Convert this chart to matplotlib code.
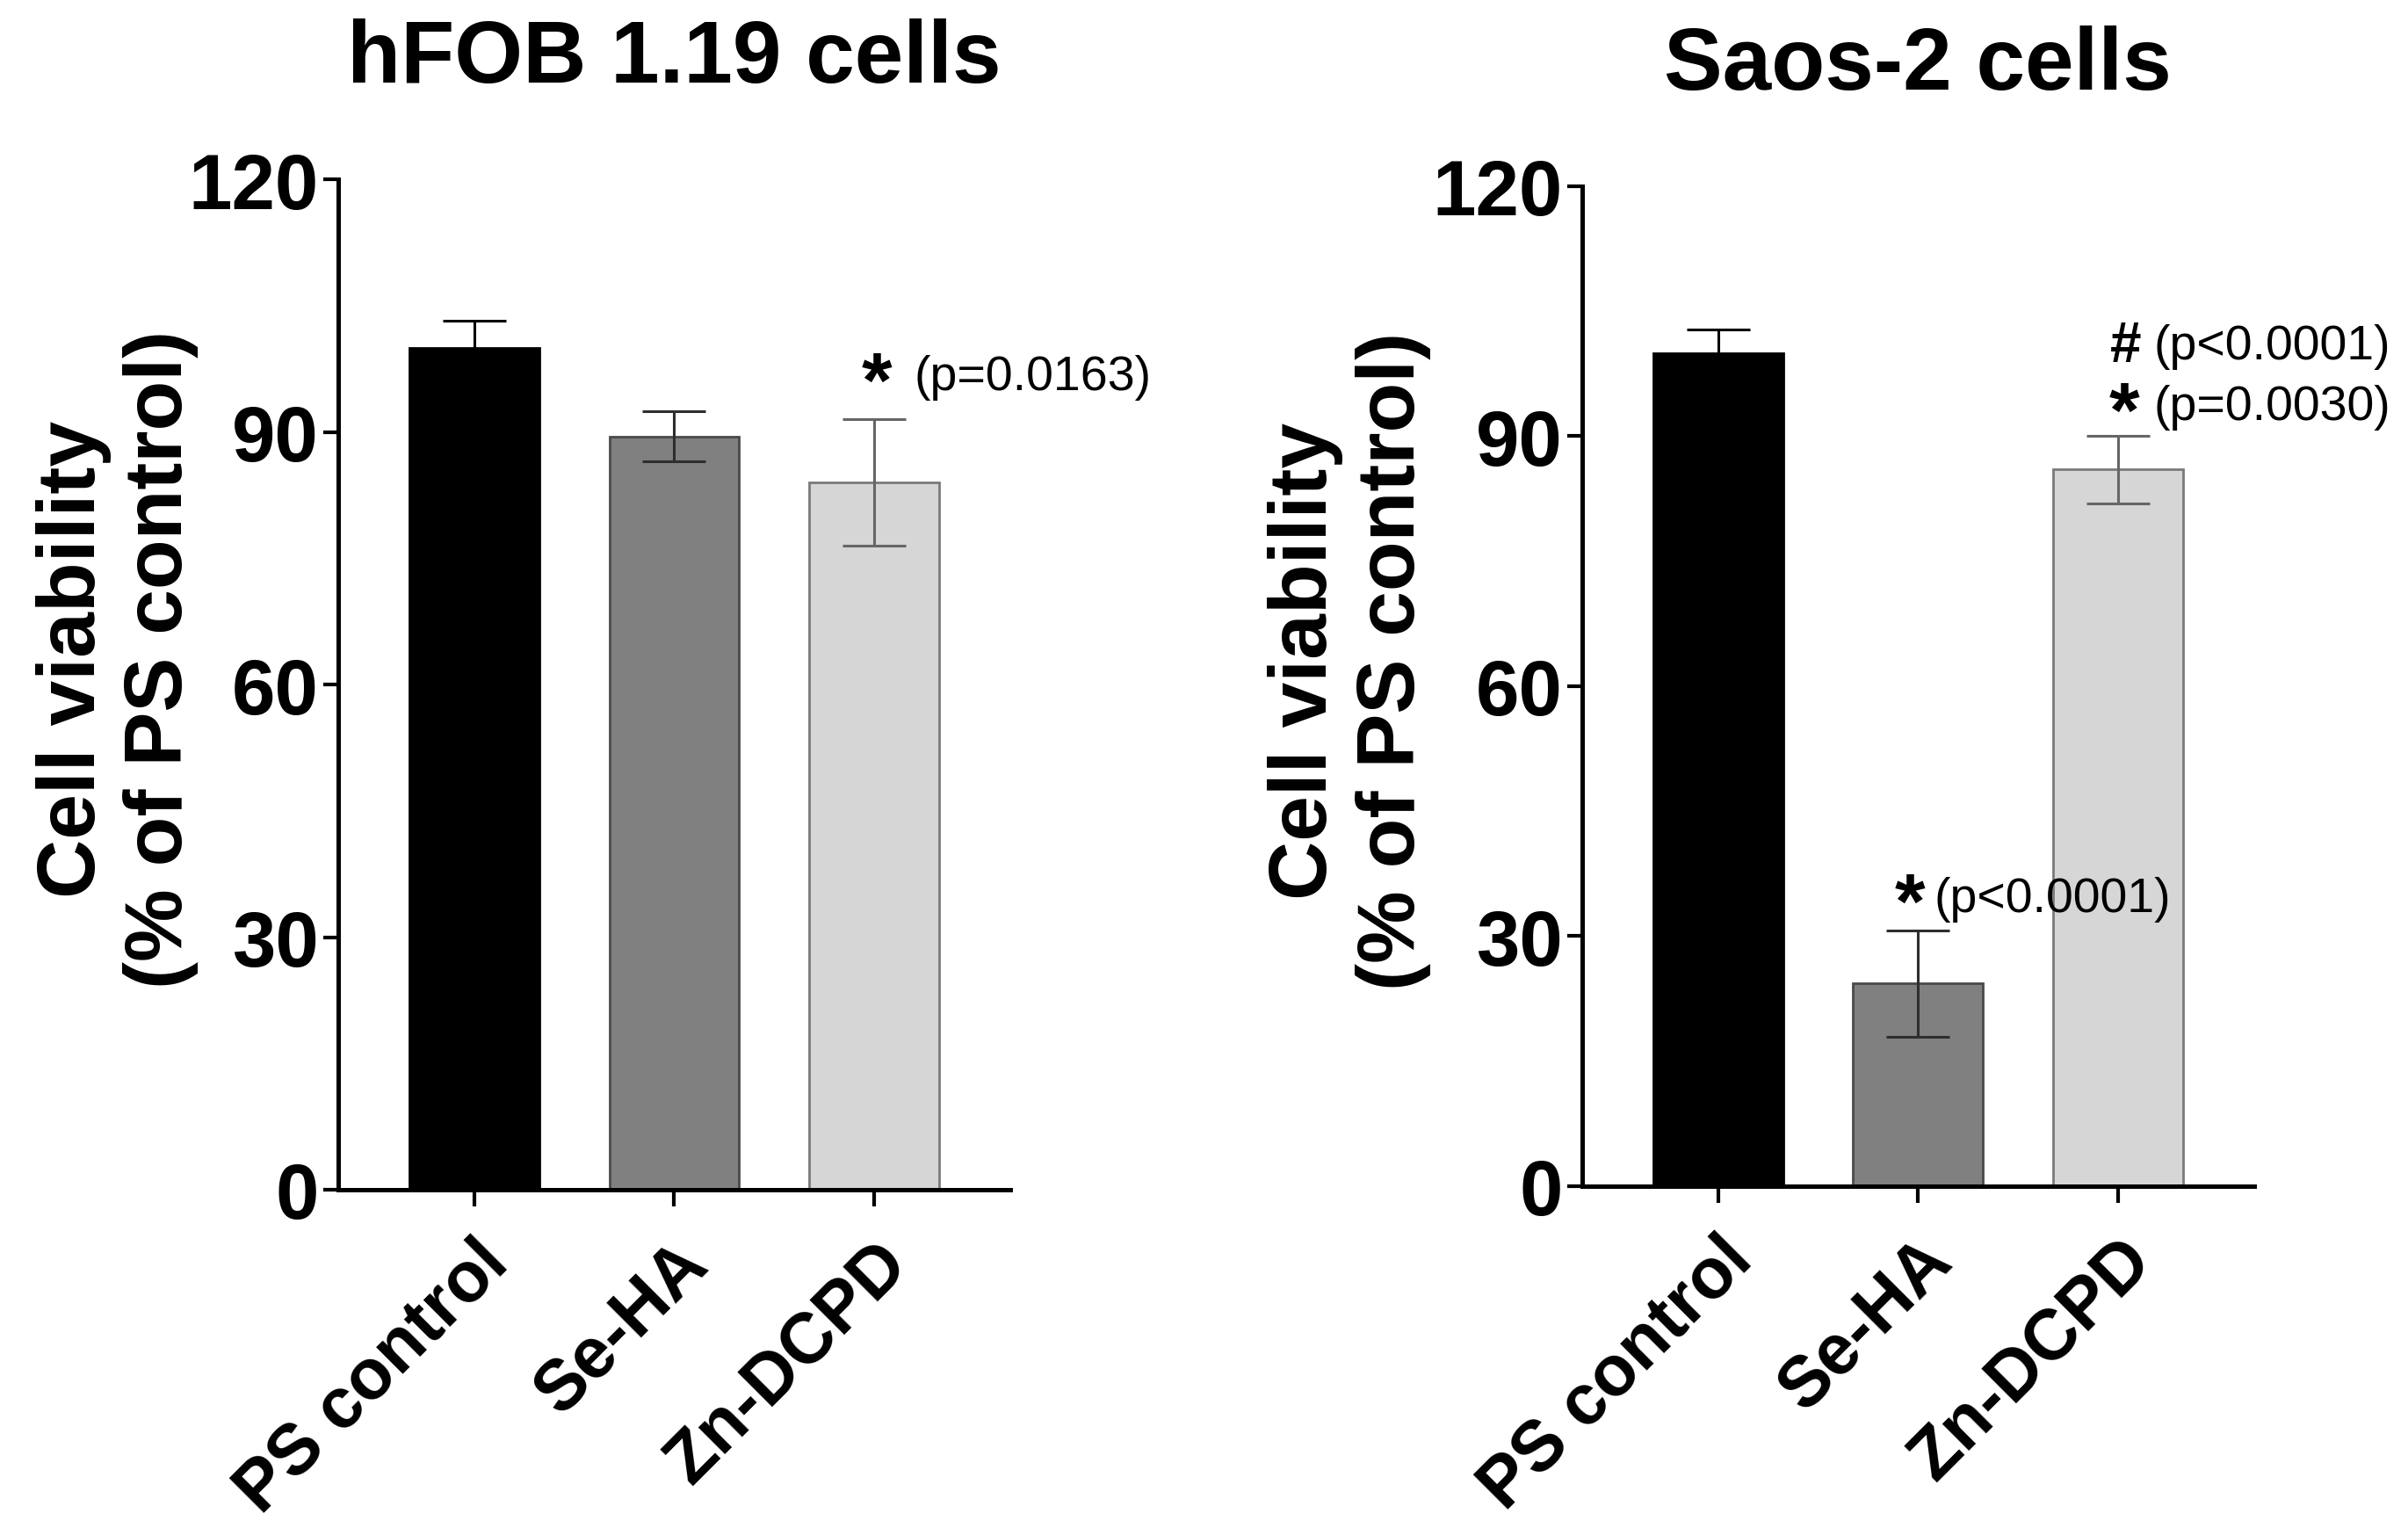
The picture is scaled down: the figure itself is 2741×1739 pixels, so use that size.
import matplotlib
matplotlib.use("Agg")
import matplotlib.pyplot as plt
import numpy as np

categories = ["PS control", "Se-HA", "Zn-DCPD"]
hfob_means = [100.0, 89.5, 84.0]
hfob_err = [3.2, 3.0, 7.5]
saos_means = [100.0, 24.3, 86.0]
saos_err = [2.8, 6.4, 4.1]
bar_colors = ["#000000", "#808080", "#d6d6d6"]
edge_colors = ["#000000", "#4a4a4a", "#7a7a7a"]
err_colors = ["#000000", "#2e2e2e", "#666666"]
titles = ["hFOB 1.19 cells", "Saos-2 cells"]
yticks = [0, 30, 60, 90, 120]

SANS = ["Liberation Sans", "DejaVu Sans"]
plt.rcParams['font.family'] = SANS

fig = plt.figure(figsize=(27.41, 17.40), dpi=100)
ax1 = fig.add_axes([0.1405, 0.2213, 0.279, 0.6607])
ax2 = fig.add_axes([0.657, 0.2236, 0.279, 0.654])

def draw(ax, means, errs, title, label_x):
    x = np.arange(len(categories))
    ax.bar(x, means, width=0.65, color=bar_colors, edgecolor=edge_colors,
           linewidth=2.0, zorder=2)
    for xi, m, e, c in zip(x, means, errs, err_colors):
        ax.errorbar([xi], [m], yerr=[e], fmt='none', ecolor=c, elinewidth=2.2,
                    capsize=26, capthick=2.2, zorder=3)
    ax.set_xlim(-0.68, 2.68)
    ax.set_ylim(0, 120)
    ax.set_yticks(yticks)
    ax.set_xticks(x)
    ax.set_xticklabels(categories, rotation=45, ha='right', rotation_mode='anchor',
                       fontsize=58, fontweight='bold')
    for lab in ax.get_yticklabels():
        lab.set_fontsize(64)
        lab.set_fontweight('bold')
    for s in ['top', 'right']:
        ax.spines[s].set_visible(False)
    for s in ['left', 'bottom']:
        ax.spines[s].set_linewidth(3.6)
    ax.tick_params(axis='y', direction='out', length=12, width=3.0, pad=4)
    ax.tick_params(axis='x', direction='out', length=14, width=3.0, pad=18)
    ax.set_ylabel("Cell viability\n(% of PS control)", fontsize=67, fontweight='bold',
                  linespacing=1.2)
    ax.yaxis.set_label_coords(label_x, 0.526)
    ax.set_title(title, fontsize=72, fontweight='bold', pad=80)

draw(ax1, hfob_means, hfob_err, titles[0], -0.208)
draw(ax2, saos_means, saos_err, titles[1], -0.225)

# annotations
ax1.text(2.015, 95.5, "*", fontsize=64, fontweight='bold', ha='center', va='center')
ax1.text(2.2, 96.5, "(p=0.0163)", fontsize=40, ha='left', va='center')

ax2.text(0.96, 33.5, "*", fontsize=64, fontweight='bold', ha='center', va='center')
ax2.text(1.08, 34.5, "(p<0.0001)", fontsize=40, ha='left', va='center')

ax2.text(2.03, 92.5, "*", fontsize=64, fontweight='bold', ha='center', va='center')
ax2.text(2.18, 93.5, "(p=0.0030)", fontsize=40, ha='left', va='center')
ax2.text(2.04, 100.8, "#", fontsize=46, fontweight='bold', ha='center', va='center')
ax2.text(2.18, 100.8, "(p<0.0001)", fontsize=40, ha='left', va='center')

fig.savefig("out.png", dpi=100)
